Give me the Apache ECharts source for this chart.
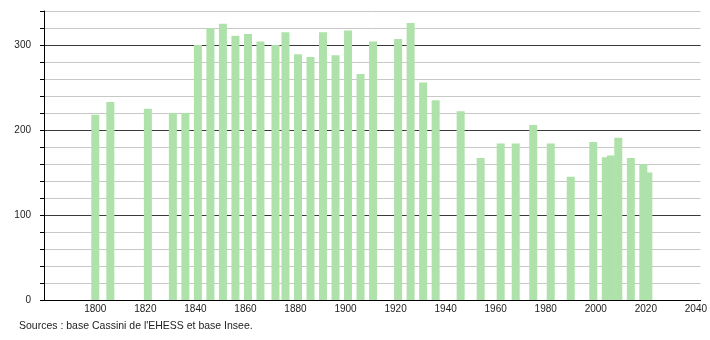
<!DOCTYPE html>
<html>
<head>
<meta charset="utf-8">
<script src="https://cdn.jsdelivr.net/npm/echarts@6/dist/echarts.min.js"></script>
<style>
html,body{margin:0;padding:0;background:#fff;}
#chart{width:710px;height:340px;}
</style>
</head>
<body>
<div id="chart"></div>
<script>
var years = [1800, 1806, 1821, 1831, 1836, 1841, 1846, 1851, 1856, 1861, 1866, 1872, 1876, 1881, 1886, 1891, 1896, 1901, 1906, 1911, 1921, 1926, 1931, 1936, 1946, 1954, 1962, 1968, 1975, 1982, 1990, 1999, 2004, 2006, 2009, 2014, 2019, 2021];
var population = [218, 233, 225, 220, 220, 300, 320, 325, 311, 313, 304, 300, 315, 289, 286, 315, 288, 317, 266, 304, 307, 326, 256, 235, 222, 167, 184, 184, 206, 184, 145, 186, 168, 170, 191, 167, 160, 150];
var xTickLabels = [1800, 1820, 1840, 1860, 1880, 1900, 1920, 1940, 1960, 1980, 2000, 2020, 2040];
var yTickLabels = [0, 100, 200, 300];
var sourceText = "Sources : base Cassini de l'EHESS et base Insee.";

var seriesData = years.map(function (y, i) { return [y, population[i]]; });
var fontFam = '"Liberation Sans", Arial, sans-serif';

var chart = echarts.init(document.getElementById('chart'), null, {renderer: 'canvas'});
chart.setOption({
  animation: false,
  backgroundColor: '#ffffff',
  title: {
    text: sourceText,
    left: 19,
    top: 321,
    padding: 0,
    textStyle: {fontFamily: fontFam, fontSize: 10.5, fontWeight: 'normal', color: '#222'}
  },
  grid: {left: 44, right: 9, top: 11, bottom: 40, containLabel: false},
  xAxis: {
    type: 'value',
    min: 1779.5,
    max: 2041.9,
    axisLine: {show: true, onZero: false, lineStyle: {color: '#000', width: 1}},
    axisTick: {show: false},
    splitLine: {show: false},
    axisLabel: {
      customValues: xTickLabels,
      margin: 4,
      fontFamily: fontFam,
      fontSize: 10,
      color: '#222',
      formatter: function (v) { return String(v); }
    }
  },
  yAxis: {
    type: 'value',
    min: 0,
    max: 340,
    interval: 20,
    axisLine: {show: true, lineStyle: {color: '#000', width: 1}},
    axisTick: {show: true, length: 4, lineStyle: {color: '#000'}},
    splitLine: {show: true, lineStyle: {color: ['#3a3a3a', '#c8c8c8', '#c8c8c8', '#c8c8c8', '#c8c8c8'], width: 1}},
    axisLabel: {
      margin: 13,
      fontFamily: fontFam,
      fontSize: 10,
      color: '#222',
      formatter: function (v) { return yTickLabels.indexOf(v) >= 0 ? String(v) : ''; }
    }
  },
  series: [{
    type: 'bar',
    data: seriesData,
    barWidth: 8,
    itemStyle: {color: 'rgb(174,226,170)'}
  }]
});
</script>
</body>
</html>
